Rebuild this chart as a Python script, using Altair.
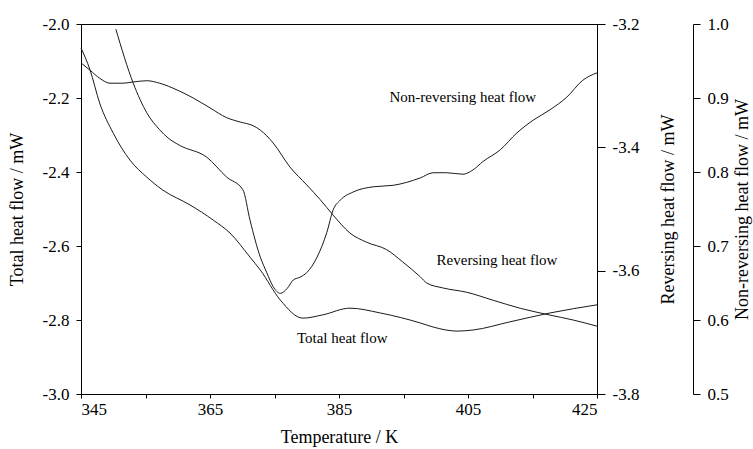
import altair as alt
import pandas as pd

# ---- data ----
temps_total = [345.0, 346.4, 347.9, 350.0, 352.6, 355.2, 357.7, 361.9, 365.5, 368.1, 371.2, 372.8,
               375.9, 379.4, 382.5, 386.7, 391.4, 397.6, 399.6, 403.3, 405.8, 411.5, 417.7, 425.0]
total_flow = [-2.065, -2.124, -2.214, -2.295, -2.368, -2.414, -2.449, -2.489, -2.530, -2.565, -2.630, -2.665,
              -2.746, -2.795, -2.786, -2.768, -2.781, -2.808, -2.819, -2.830, -2.827, -2.805, -2.781, -2.759]

temps_rev = [345.0, 346.4, 347.9, 349.5, 351.5, 353.1, 355.2, 357.2, 359.9, 362.4, 365.0, 367.6, 369.7,
             371.7, 372.8, 374.8, 377.4, 380.0, 382.1, 384.1, 386.7, 389.3, 392.4, 394.9, 397.6, 398.6,
             401.1, 404.8, 408.9, 413.1, 417.7, 421.3, 425.0]
rev_flow = [-3.263, -3.275, -3.288, -3.296, -3.296, -3.294, -3.292, -3.296, -3.307, -3.320, -3.336, -3.352,
            -3.359, -3.365, -3.372, -3.393, -3.432, -3.461, -3.485, -3.510, -3.539, -3.554, -3.566, -3.586,
            -3.610, -3.620, -3.628, -3.635, -3.648, -3.661, -3.672, -3.680, -3.690]

temps_non = [350.4, 353.1, 355.2, 357.2, 358.5, 360.3, 364.5, 367.6, 370.1, 371.2, 372.8, 373.8, 374.8,
             375.9, 377.0, 377.9, 379.0, 380.0, 381.6, 383.1, 384.1, 385.2, 387.2, 390.3, 393.4, 397.6,
             399.6, 401.7, 404.2, 405.8, 407.3, 410.0, 412.6, 415.1, 417.7, 420.3, 422.8, 425.0]
non_flow = [0.993, 0.920, 0.880, 0.857, 0.846, 0.836, 0.820, 0.793, 0.776, 0.735, 0.685, 0.664, 0.645,
            0.636, 0.643, 0.654, 0.658, 0.664, 0.685, 0.718, 0.749, 0.762, 0.773, 0.780, 0.782, 0.792,
            0.799, 0.799, 0.797, 0.803, 0.814, 0.830, 0.853, 0.870, 0.884, 0.901, 0.924, 0.934]

label_texts = ["Total heat flow", "Reversing heat flow", "Non-reversing heat flow"]
label_temps = [385.5, 409.5, 404.2]
label_vals = [-2.849, -3.583, 0.901]

x_ticks = [345, 355, 365, 375, 385, 395, 405, 415, 425]
total_ticks = [-3.0, -2.8, -2.6, -2.4, -2.2, -2.0]
rev_ticks = [-3.8, -3.6, -3.4, -3.2]
non_ticks = [0.5, 0.6, 0.7, 0.8, 0.9, 1.0]

FONT = "Liberation Serif"
LINE = "#1a1a1a"
LBL = 17
TTL = 18

df_total = pd.DataFrame({"T": temps_total, "v": total_flow})
df_rev = pd.DataFrame({"T": temps_rev, "v": rev_flow})
df_non = pd.DataFrame({"T": temps_non, "v": non_flow})

common = dict(labelFont=FONT, titleFont=FONT, labelFontSize=LBL, titleFontSize=TTL,
              titleFontWeight="normal", labelColor="black", titleColor="black",
              domainColor="black", tickColor="black", grid=False)

x_enc = alt.X("T:Q", scale=alt.Scale(domain=[345, 425], nice=False, zero=False),
              axis=alt.Axis(values=x_ticks, title="Temperature / K",
                            labelExpr="datum.value % 20 == 5 ? datum.label : ''",
                            tickSize=4, labelPadding=3, titlePadding=11, **common))

neg_label = "(datum.value < 0 ? '-' : '') + format(abs(datum.value), '.1f')"


def series(df, idx, domain, axis):
    y = alt.Y("v:Q", scale=alt.Scale(domain=domain, nice=False, zero=False), axis=axis)
    line = alt.Chart(df).mark_line(color=LINE, strokeWidth=1, interpolate="monotone").encode(x=x_enc, y=y)
    lab = pd.DataFrame({"T": [label_temps[idx]], "v": [label_vals[idx]], "t": [label_texts[idx]]})
    txt = alt.Chart(lab).mark_text(font=FONT, fontSize=15, color="black").encode(
        x=alt.X("T:Q"), y=alt.Y("v:Q"), text="t:N")
    return alt.layer(line, txt)


total_axis = alt.Axis(orient="left", values=total_ticks, labelExpr=neg_label, title="Total heat flow / mW",
                      tickSize=5, labelPadding=7, titlePadding=16, **common)
rev_axis = alt.Axis(orient="right", values=rev_ticks, labelExpr=neg_label, title="Reversing heat flow / mW",
                    tickSize=8, labelPadding=7, titlePadding=21, titleAngle=-90, titleBaseline="top",
                    **common)
non_axis = alt.Axis(orient="right", offset=96, values=non_ticks, format=".1f",
                    title="Non-reversing heat flow / mW",
                    tickSize=7, labelPadding=7, titlePadding=5, titleAngle=-90, titleBaseline="top",
                    **common)

chart = alt.layer(
    series(df_total, 0, [-3.0, -2.0], total_axis),
    series(df_rev, 1, [-3.8, -3.2], rev_axis),
    series(df_non, 2, [0.5, 1.0], non_axis),
).resolve_scale(y="independent").properties(
    width=516, height=370,
    autosize=alt.AutoSizeParams(type="none"),
    padding={"left": 81, "top": 24, "right": 156, "bottom": 55},
    background="white",
).configure(
    font=FONT,
    style={"guide-label": {"font": FONT, "fontSize": LBL, "fill": "black"},
           "guide-title": {"font": FONT, "fontSize": TTL}},
).configure_view(stroke="black", strokeWidth=1).configure_axis(
    domainWidth=1, tickWidth=1, labelFont=FONT, titleFont=FONT,
).configure_axisX(labelFont=FONT).configure_axisY(labelFont=FONT)

chart.save("out.html", embed_options={"renderer": "svg", "actions": False})
